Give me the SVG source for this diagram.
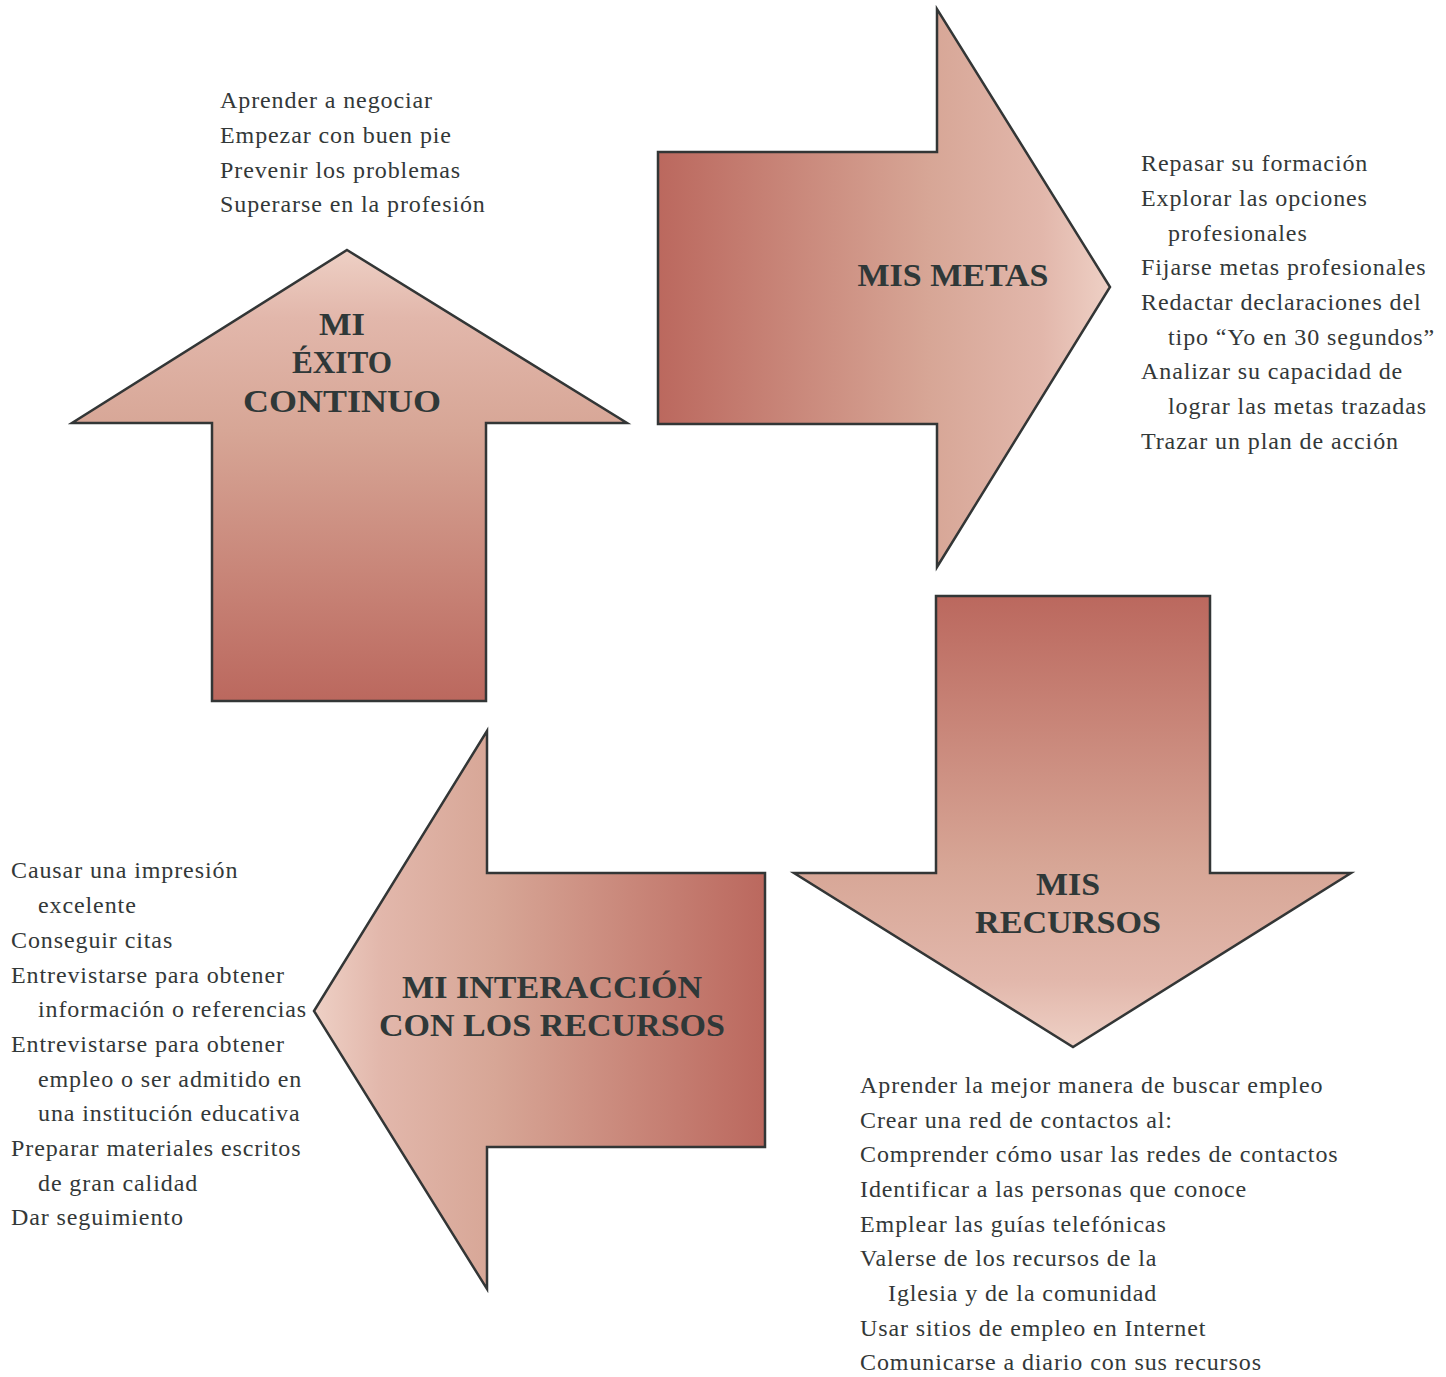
<svg xmlns="http://www.w3.org/2000/svg" width="1446" height="1377" viewBox="0 0 1446 1377">
<defs>
<style>
.arrow{stroke:#333636;stroke-width:2.5;stroke-linejoin:miter}
.title{font-family:"Liberation Serif","Times New Roman",serif;font-weight:bold;font-size:31px;fill:#2f3838;text-anchor:middle}
.body{font-family:"Liberation Serif","Times New Roman",serif;font-size:24px;fill:#333838;letter-spacing:0.9px}
</style>
<linearGradient id="gUp" gradientUnits="userSpaceOnUse" x1="0" y1="701" x2="0" y2="250">
<stop offset="0" stop-color="#bb685e"/><stop offset="0.6" stop-color="#d7a696"/><stop offset="0.85" stop-color="#e2b7ab"/><stop offset="1" stop-color="#eed0c5"/>
</linearGradient>
<linearGradient id="gRight" gradientUnits="userSpaceOnUse" x1="658" y1="0" x2="1110" y2="0">
<stop offset="0" stop-color="#bb685e"/><stop offset="0.6" stop-color="#d7a696"/><stop offset="0.85" stop-color="#e2b7ab"/><stop offset="1" stop-color="#eed0c5"/>
</linearGradient>
<linearGradient id="gDown" gradientUnits="userSpaceOnUse" x1="0" y1="596" x2="0" y2="1047">
<stop offset="0" stop-color="#bb685e"/><stop offset="0.6" stop-color="#d7a696"/><stop offset="0.85" stop-color="#e2b7ab"/><stop offset="1" stop-color="#eed0c5"/>
</linearGradient>
<linearGradient id="gLeft" gradientUnits="userSpaceOnUse" x1="765" y1="0" x2="314" y2="0">
<stop offset="0" stop-color="#bb685e"/><stop offset="0.6" stop-color="#d7a696"/><stop offset="0.85" stop-color="#e2b7ab"/><stop offset="1" stop-color="#eed0c5"/>
</linearGradient>
</defs>
<rect width="1446" height="1377" fill="#ffffff"/>

<g id="exito">
<polygon class="arrow" fill="url(#gUp)" points="347,250 627,423 486,423 486,701 212,701 212,423 72,423"/>
<text class="title" x="342" y="335" textLength="46" lengthAdjust="spacingAndGlyphs">MI</text>
<text class="title" x="342" y="373" textLength="100" lengthAdjust="spacingAndGlyphs">ÉXITO</text>
<text class="title" x="342" y="412" textLength="198" lengthAdjust="spacingAndGlyphs">CONTINUO</text>
</g>

<g id="metas">
<polygon class="arrow" fill="url(#gRight)" points="658,152 937,152 937,9 1110,287 937,567 937,424 658,424"/>
<text class="title" x="953" y="286" textLength="191" lengthAdjust="spacingAndGlyphs">MIS METAS</text>
</g>

<g id="recursos">
<polygon class="arrow" fill="url(#gDown)" points="936,596 1210,596 1210,873 1351,873 1073,1047 794,873 936,873"/>
<text class="title" x="1068" y="895" textLength="64" lengthAdjust="spacingAndGlyphs">MIS</text>
<text class="title" x="1068" y="933" textLength="186" lengthAdjust="spacingAndGlyphs">RECURSOS</text>
</g>

<g id="interaccion">
<polygon class="arrow" fill="url(#gLeft)" points="765,873 765,1147 487,1147 487,1289 314,1011 487,731 487,873"/>
<text class="title" x="552" y="998" textLength="300" lengthAdjust="spacingAndGlyphs">MI INTERACCIÓN</text>
<text class="title" x="552" y="1036" textLength="346" lengthAdjust="spacingAndGlyphs">CON LOS RECURSOS</text>
</g>

<g id="connectors"></g>

<g id="lista-exito">
<text class="body" x="220" y="108">Aprender a negociar</text>
<text class="body" x="220" y="143">Empezar con buen pie</text>
<text class="body" x="220" y="178">Prevenir los problemas</text>
<text class="body" x="220" y="212">Superarse en la profesión</text>
</g>

<g id="lista-metas">
<text class="body" x="1141" y="171">Repasar su formación</text>
<text class="body" x="1141" y="206">Explorar las opciones</text>
<text class="body" x="1168" y="241">profesionales</text>
<text class="body" x="1141" y="275">Fijarse metas profesionales</text>
<text class="body" x="1141" y="310">Redactar declaraciones del</text>
<text class="body" x="1168" y="345">tipo “Yo en 30 segundos”</text>
<text class="body" x="1141" y="379">Analizar su capacidad de</text>
<text class="body" x="1168" y="414">lograr las metas trazadas</text>
<text class="body" x="1141" y="449">Trazar un plan de acción</text>
</g>

<g id="lista-interaccion">
<text class="body" x="11" y="878">Causar una impresión</text>
<text class="body" x="38" y="913">excelente</text>
<text class="body" x="11" y="948">Conseguir citas</text>
<text class="body" x="11" y="983">Entrevistarse para obtener</text>
<text class="body" x="38" y="1017">información o referencias</text>
<text class="body" x="11" y="1052">Entrevistarse para obtener</text>
<text class="body" x="38" y="1087">empleo o ser admitido en</text>
<text class="body" x="38" y="1121">una institución educativa</text>
<text class="body" x="11" y="1156">Preparar materiales escritos</text>
<text class="body" x="38" y="1191">de gran calidad</text>
<text class="body" x="11" y="1225">Dar seguimiento</text>
</g>

<g id="lista-recursos">
<text class="body" x="860" y="1093">Aprender la mejor manera de buscar empleo</text>
<text class="body" x="860" y="1128">Crear una red de contactos al:</text>
<text class="body" x="860" y="1162">Comprender cómo usar las redes de contactos</text>
<text class="body" x="860" y="1197">Identificar a las personas que conoce</text>
<text class="body" x="860" y="1232">Emplear las guías telefónicas</text>
<text class="body" x="860" y="1266">Valerse de los recursos de la</text>
<text class="body" x="888" y="1301">Iglesia y de la comunidad</text>
<text class="body" x="860" y="1336">Usar sitios de empleo en Internet</text>
<text class="body" x="860" y="1370">Comunicarse a diario con sus recursos</text>
</g>
</svg>
